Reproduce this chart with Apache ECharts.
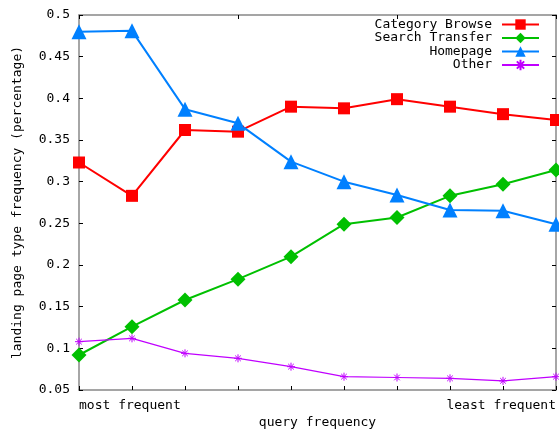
<!DOCTYPE html>
<html>
<head>
<meta charset="utf-8">
<script src="https://cdn.jsdelivr.net/npm/echarts@6/dist/echarts.min.js"></script>
<style>
  html, body { margin: 0; padding: 0; background: #fff; }
  #chart { width: 559px; height: 434px; }
</style>
</head>
<body>
<div id="chart"></div>
<script>
// Query-frequency buckets, from most to least frequent
const categories = ['most frequent', '', '', '', '', '', '', '', '', 'least frequent'];

// Share of landing page types per bucket
const categoryBrowse = [0.323, 0.283, 0.362, 0.360, 0.390, 0.388, 0.399, 0.390, 0.381, 0.374];
const searchTransfer = [0.092, 0.126, 0.158, 0.183, 0.210, 0.249, 0.257, 0.283, 0.297, 0.314];
const homepage       = [0.480, 0.481, 0.387, 0.370, 0.324, 0.300, 0.284, 0.266, 0.265, 0.249];
const other          = [0.108, 0.112, 0.094, 0.088, 0.078, 0.066, 0.065, 0.064, 0.061, 0.066];

const seriesNames = ['Category Browse', 'Search Transfer', 'Homepage', 'Other'];

// Y axis range and step
const yMin = 0.05;
const yMax = 0.5;
const yStep = 0.05;

const FONT = '"DejaVu Sans Mono", "Liberation Mono", monospace';
const AXIS_GRAY = '#888888';
const STAR = 'path://M0,5L10,5M5,0L5,10M1.5,1.5L8.5,8.5M1.5,8.5L8.5,1.5';

const chart = echarts.init(document.getElementById('chart'), null, { renderer: 'canvas' });

const frameAxis = {
  axisLine: { show: true, lineStyle: { color: AXIS_GRAY, width: 1.5 } },
  axisTick: { show: true, inside: true, length: 4, lineStyle: { color: '#000', width: 1 } },
  splitLine: { show: false }
};

function lineSeries(name, data, color, symbol, size, width, extra) {
  return Object.assign({
    name: name,
    type: 'line',
    data: data,
    symbol: symbol,
    symbolSize: size,
    showAllSymbol: true,
    lineStyle: { color: color, width: width },
    itemStyle: { color: color },
    emphasis: { disabled: true }
  }, extra || {});
}

chart.setOption({
  animation: false,
  backgroundColor: '#fff',
  textStyle: { fontFamily: FONT, color: '#000' },
  grid: { left: 79, right: 3, top: 15, bottom: 43, containLabel: false },
  legend: {
    orient: 'vertical',
    right: 14,
    top: 13,
    align: 'right',
    itemWidth: 37,
    itemHeight: 13,
    itemGap: 0.5,
    data: seriesNames,
    textStyle: { fontFamily: FONT, fontSize: 13, color: '#000', lineHeight: 13, padding: [0, 5, 0, 0] }
  },
  xAxis: [
    Object.assign({}, frameAxis, {
      type: 'category',
      data: categories,
      boundaryGap: false,
      position: 'bottom',
      name: 'query frequency',
      nameLocation: 'middle',
      nameGap: 26,
      nameMoveOverlap: false,
      nameTextStyle: { fontFamily: FONT, fontSize: 13, color: '#000' },
      axisLabel: {
        interval: 0, margin: 9, fontFamily: FONT, fontSize: 13, color: '#000',
        alignMinLabel: 'left', alignMaxLabel: 'right'
      }
    }),
    Object.assign({}, frameAxis, {
      type: 'category',
      data: categories,
      boundaryGap: false,
      position: 'top',
      axisLabel: { show: false }
    })
  ],
  yAxis: [
    Object.assign({}, frameAxis, {
      type: 'value',
      min: yMin, max: yMax, interval: yStep,
      position: 'left',
      name: 'landing page type frequency (percentage)',
      nameLocation: 'middle',
      nameGap: 55,
      nameRotate: 90,
      nameMoveOverlap: false,
      nameTextStyle: { fontFamily: FONT, fontSize: 13, color: '#000' },
      axisLabel: {
        margin: 9, fontFamily: FONT, fontSize: 13, color: '#000',
        formatter: v => String(parseFloat(v.toFixed(2)))
      }
    }),
    Object.assign({}, frameAxis, {
      type: 'value',
      min: yMin, max: yMax, interval: yStep,
      position: 'right',
      axisLabel: { show: false }
    })
  ],
  series: [
    lineSeries(seriesNames[0], categoryBrowse, '#ff0000', 'rect', 12, 2),
    lineSeries(seriesNames[1], searchTransfer, '#00c000', 'diamond', 15, 2),
    lineSeries(seriesNames[2], homepage, '#0080ff', 'triangle', 15, 2),
    lineSeries(seriesNames[3], other, '#c000ff', STAR, 8, 1.2, {
      itemStyle: { color: '#c000ff', borderColor: '#c000ff', borderWidth: 1 }
    })
  ]
});
</script>
</body>
</html>
